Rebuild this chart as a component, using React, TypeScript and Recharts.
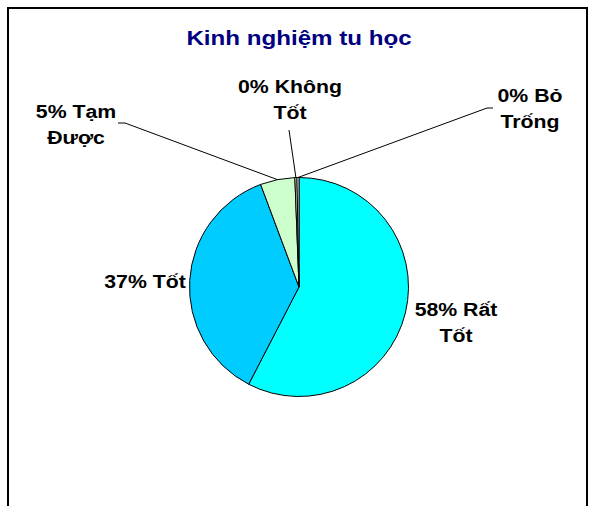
import { PieChart, Pie, Cell } from "recharts";

const CATEGORIES = ["Rất Tốt", "Tốt", "Tạm Được", "Không Tốt", "Bỏ Trống"];
const VALUES = [57.6, 36.7, 5.1, 0.3, 0.3];
const COLORS = ["#00FFFF", "#00CCFF", "#CCFFCC", "#FFFFCC", "#FFFFFF"];
const TITLE = "Kinh nghiệm tu học";

// label placement relative to the pie centre (first-line baseline), plus leader line ends
const LABEL_LAYOUT = [
  { dx: 157, dy: 29, line: null },
  { dx: -154, dy: 1, line: null },
  { dx: -223, dy: -169, line: [[-181, -164], [-174, -164]] },
  { dx: -9, dy: -194, line: [[-10, -157]] },
  { dx: 231, dy: -185, line: [[194, -179], [188, -179]] },
];

const W = 590;
const H = 506;
const CX = 299;
const CY = 287;
const R = 109.5;
const FONT = "'Liberation Sans', Arial, sans-serif";
const STRETCH = 1.15;
const RAD = Math.PI / 180;

const data = CATEGORIES.map((name, i) => ({ name, value: VALUES[i] }));

const renderLabel = (props: any) => {
  const { cx, cy, midAngle, outerRadius, percent, index, name } = props;
  const layout = LABEL_LAYOUT[index];
  const pct = `${Math.round(percent * 100)}%`;
  const words = String(name).split(" ");
  const lines = words.length > 1 && index !== 1
    ? [`${pct} ${words[0]}`, words.slice(1).join(" ")]
    : [`${pct} ${name}`];
  const x = cx + layout.dx;
  const y = cy + layout.dy;

  let path = "";
  if (layout.line) {
    const px = cx + outerRadius * Math.cos(-midAngle * RAD);
    const py = cy + outerRadius * Math.sin(-midAngle * RAD);
    const pts = layout.line.map(([a, b]) => `${cx + a},${cy + b}`);
    path = `M${pts.join(" L")} L${px},${py}`;
  }

  return (
    <g key={`lbl-${index}`}>
      {path && <path d={path} stroke="#000" strokeWidth={1} fill="none" />}
      {lines.map((t, i) => (
        <text
          key={i}
          transform={`translate(${x},${y + i * 25.5}) scale(${STRETCH},1)`}
          x={0}
          y={0}
          textAnchor="middle"
          fontFamily={FONT}
          fontWeight="bold"
          fontSize={18.5}
          fill="#000"
        >
          {t}
        </text>
      ))}
    </g>
  );
};

export default function App() {
  return (
    <div style={{ position: "fixed", left: 0, top: 0, width: W, height: H, overflow: "hidden", background: "#fff" }}>
      <div style={{ position: "absolute", left: 0, top: 0 }}>
        <PieChart width={W} height={H} margin={{ top: 0, right: 0, bottom: 0, left: 0 }}>
          <Pie
            data={data}
            dataKey="value"
            nameKey="name"
            cx={CX}
            cy={CY}
            outerRadius={R}
            startAngle={90}
            endAngle={-270}
            stroke="#000"
            strokeWidth={1}
            label={renderLabel}
            labelLine={false}
            isAnimationActive={false}
          >
            {data.map((d, i) => (
              <Cell key={d.name} fill={COLORS[i]} />
            ))}
          </Pie>
        </PieChart>
      </div>
      <svg width={W} height={H} style={{ position: "absolute", left: 0, top: 0, pointerEvents: "none" }}>
        <path d="M8,520 V8 H587 V520" stroke="#000" strokeWidth={2} fill="none" />
        <text
          transform={`translate(299,45) scale(${STRETCH},1)`}
          textAnchor="middle"
          fontFamily={FONT}
          fontWeight="bold"
          fontSize={21}
          fill="#000080"
        >
          {TITLE}
        </text>
      </svg>
    </div>
  );
}
